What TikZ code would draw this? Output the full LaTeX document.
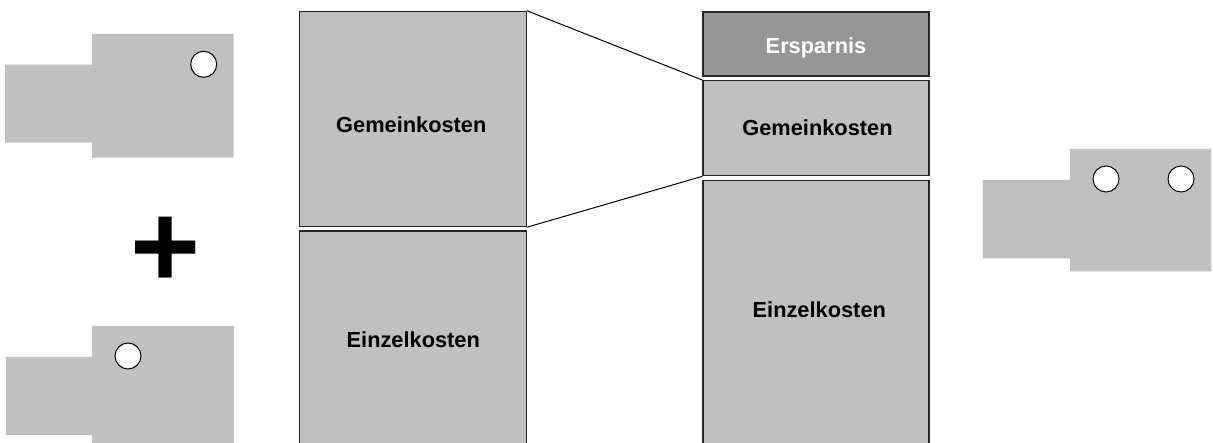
\documentclass[tikz,border=0pt]{standalone}
\usepackage{fontspec}
\setmainfont{Liberation Sans}
\usepackage{xcolor}
\usetikzlibrary{positioning}
\definecolor{partgray}{HTML}{C0C0C0}
\definecolor{savegray}{HTML}{969696}

\begin{document}
\begin{tikzpicture}[x=1pt, y=-1pt,
                    block/.style={draw=black!85, line width=1.3pt, fill=partgray, inner sep=0pt, minimum width=226pt},
                    saving/.style={block, fill=savegray},
                    caption/.style={anchor=base, font=\fontsize{21.8}{24}\selectfont\bfseries},
                    part/.style={fill=partgray},
                    hole/.style={draw=black, line width=1pt, fill=white},
                    link/.style={thin, black, line width=1pt},
                   ]

\clip (0,0) rectangle (1213,443);

% single parts
\fill[part] (5,64.7) -- (92,64.7) -- (92,34) -- (233.7,34) -- (233.7,157.7) -- (92,157.7) -- (92,142.7) -- (5,142.7) -- cycle;
\draw[hole] (203.7,64.3) circle (13);

\fill[part] (6,357) -- (92,357) -- (92,326) -- (234,326) -- (234,450) -- (92,450) -- (92,435) -- (6,435) -- cycle;
\draw[hole] (128,356) circle (13);

\node[anchor=base, font=\fontsize{120}{120}\selectfont\bfseries] (plus) at (165.2,288) {+};

% combined part
\fill[part] (982.7,180) -- (1070,180) -- (1070,149) -- (1211.3,149) -- (1211.3,271.3) -- (1070,271.3) -- (1070,258.3) -- (982.7,258.3) -- cycle;
\draw[hole] (1106,179) circle (13);
\draw[hole] (1181,179) circle (13);

% cost blocks, separate
\node[block, minimum width=227pt, minimum height=215pt] (gemL) at (413,119) {};
\node[block, minimum width=227pt, minimum height=224pt] (einL) at (413,343) {};
\node[caption] (gemLtxt) at (411.3,133) {Gemeinkosten};
\node[caption] (einLtxt) at (413.3,348) {Einzelkosten};

% cost blocks, combined
\node[saving, minimum height=64pt] (spar) at (816,44) {};
\node[block, minimum height=95pt] (gemR) at (816,128.2) {};
\node[block, minimum height=270pt] (einR) at (816,315.3) {};
\node[caption, white] (spartxt) at (816,53.3) {Ersparnis};
\node[caption] (gemRtxt) at (817.5,136) {Gemeinkosten};
\node[caption] (einRtxt) at (819.3,317.3) {Einzelkosten};

\draw[link] (gemL.north east) -- (gemR.north west);
\draw[link] (gemL.south east) -- (gemR.south west);

\end{tikzpicture}
\end{document}
